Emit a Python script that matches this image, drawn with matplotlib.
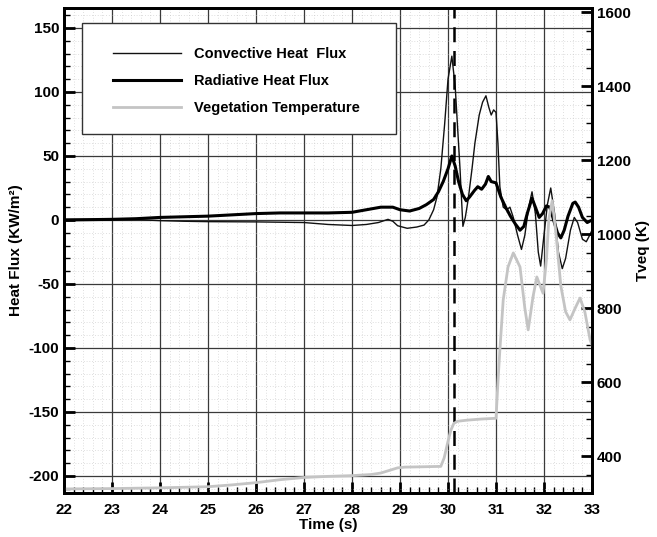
import numpy as np
import matplotlib.pyplot as plt
from matplotlib.ticker import MultipleLocator
from matplotlib.patches import Rectangle

plt.rcParams['font.family'] = ['Liberation Sans', 'DejaVu Sans']
plt.rcParams['font.weight'] = 'bold'
plt.rcParams['axes.unicode_minus'] = False

# convective heat flux (kW/m2), thin black line
t_conv = [22, 23, 23.5, 24, 24.5, 25, 26, 27, 27.5, 28, 28.3, 28.55, 28.75, 28.85,
          28.95, 29.15, 29.35, 29.5, 29.6, 29.7, 29.77, 29.85, 29.93, 30.0, 30.08,
          30.15, 30.25, 30.31, 30.36, 30.42, 30.5, 30.56, 30.65, 30.72, 30.79, 30.85,
          30.9, 30.95, 31.0, 31.04, 31.08, 31.15, 31.22, 31.29, 31.36, 31.45, 31.53,
          31.6, 31.68, 31.75, 31.82, 31.88, 31.93, 31.99, 32.07, 32.14, 32.22, 32.3,
          32.38, 32.45, 32.55, 32.63, 32.7, 32.8, 32.88, 32.95, 33.0]
q_conv = [0.5, 0.5, 0.3, -0.5, -1, -1.3, -1.5, -2, -3.5, -4.3, -3.5, -2, 0.5, -1,
          -4.5, -6.5, -5.5, -4, 0, 8, 18, 40, 75, 110, 128,
          104, 40, -5, 2, 16, 40, 60, 82, 92, 97, 88,
          82, 86, 84, 60, 26, 10, 8, 10, 2, -12, -23,
          -12, 10, 22, 5, -25, -36, -15, 12, 25, 5, -25,
          -38, -30, -8, 2, -2, -15, -17, -12, -8]

# radiative heat flux (kW/m2), thick black line
t_rad = [22, 23, 23.5, 24, 24.5, 25, 25.5, 26, 26.5, 27, 27.5, 28, 28.3, 28.6,
         28.85, 29.0, 29.2, 29.4, 29.55, 29.7, 29.8, 29.9, 30.0, 30.08, 30.15, 30.22,
         30.3, 30.38, 30.45, 30.55, 30.62, 30.7, 30.78, 30.84, 30.9, 31.0, 31.1,
         31.2, 31.3, 31.4, 31.5, 31.58, 31.65, 31.75, 31.82, 31.9, 31.97, 32.05,
         32.12, 32.2, 32.28, 32.35, 32.42, 32.5, 32.6, 32.65, 32.72, 32.8, 32.9, 33.0]
q_rad = [0, 0.5, 1, 2, 2.5, 3, 4, 5, 5.5, 5.5, 5.5, 6, 8, 10,
         10, 8, 7, 9, 12, 16, 22, 30, 40, 50, 42, 30,
         20, 15, 18, 23, 26, 24, 28, 34, 30, 29, 18,
         10, 3, -3, -8, -5, 5, 17, 10, 2, 5, 11,
         10, 0, -10, -14, -8, 3, 13, 14, 10, 2, -2, 0]

# vegetation temperature (K), grey line on right axis
t_veg = [22, 23, 24, 25, 25.5, 26, 26.5, 27, 27.5, 28, 28.4, 28.6, 28.8, 28.95,
         29.1, 29.5, 29.85, 29.92, 30.0, 30.06, 30.12, 30.2, 30.4, 30.7, 31.0,
         31.04, 31.08, 31.15, 31.25, 31.36, 31.5, 31.6, 31.67, 31.77, 31.85, 31.92,
         31.98, 32.05, 32.1, 32.17, 32.25, 32.35, 32.45, 32.54, 32.65, 32.75, 32.85,
         32.96, 33.0]
T_veg = [311, 312, 314, 317, 322, 328, 336, 342, 345, 347, 350, 354, 362, 368,
         370, 371, 372, 395, 440, 470, 488, 494, 497, 500, 502,
         600, 686, 822, 911, 949, 911, 800, 741, 830, 884, 860,
         840, 930, 1040, 1090, 1000, 860, 790, 768, 800, 827, 790,
         714, 700]

t_event = 30.12

fig = plt.figure(figsize=(6.57, 5.37), dpi=100)
ax = fig.add_axes([0.0974, 0.0819, 0.8037, 0.9032])
ax2 = ax.twinx()

ax.set_xlim(22, 33)
ax.set_ylim(-213.3, 165.6)
ax2.set_ylim(300, 1611)

ax.xaxis.set_major_locator(MultipleLocator(1))
ax.xaxis.set_minor_locator(MultipleLocator(0.2))
ax.yaxis.set_major_locator(MultipleLocator(50))
ax.yaxis.set_minor_locator(MultipleLocator(10))
ax2.yaxis.set_major_locator(MultipleLocator(200))
ax2.yaxis.set_minor_locator(MultipleLocator(50))

ax.grid(which='major', color='#3a3a3a', lw=0.9)
ax.grid(which='minor', color='#c0c0c0', lw=0.5, ls=(0, (1, 3)))
ax.set_axisbelow(True)

l1, = ax.plot(t_conv, q_conv, color='#111111', lw=1.0)
l2, = ax.plot(t_rad, q_rad, color='black', lw=2.2)
l3, = ax2.plot(t_veg, T_veg, color='#c4c4c4', lw=2.0)
ax.axvline(t_event, color='black', lw=1.8, ls=(0, (6, 3.5)))

for a in (ax, ax2):
    a.tick_params(which='major', direction='in', length=8, width=2, labelsize=11)
    a.tick_params(which='minor', direction='in', length=4, width=1)
    for s in a.spines.values():
        s.set_linewidth(2)
ax.tick_params(which='both', top=False, right=False)
ax2.tick_params(which='both', left=False)
ax.tick_params(axis='x', pad=7)

ax.set_xlabel('Time (s)', fontsize=11, fontweight='bold', labelpad=1)
ax.set_ylabel('Heat Flux (KW/m²)', fontsize=11, fontweight='bold', labelpad=4)
ax2.set_ylabel('Tveq (K)', fontsize=11, fontweight='bold', labelpad=4)

# legend box drawn as its own frame, entries placed inside
ax2.add_patch(Rectangle((0.034, 0.740), 0.595, 0.229, transform=ax2.transAxes,
                        facecolor='white', edgecolor='#333333', lw=1.0, zorder=5))
leg = ax2.legend([l1, l2, l3],
                 ['Convective Heat  Flux', 'Radiative Heat Flux', 'Vegetation Temperature'],
                 loc='upper left', bbox_to_anchor=(0.093, 0.920),
                 fontsize=10.5, frameon=False, borderpad=0, borderaxespad=0,
                 labelspacing=0.9, handlelength=4.65, handletextpad=0.9)
leg.set_zorder(6)

fig.savefig('out.png', dpi=100)
